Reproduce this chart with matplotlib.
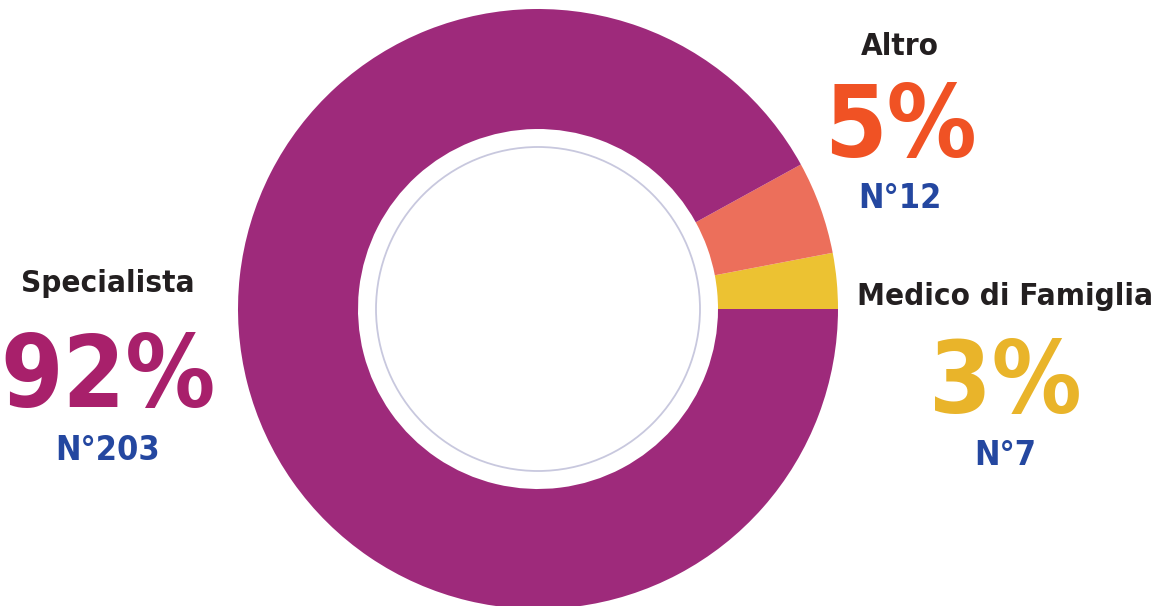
import matplotlib
matplotlib.use("Agg")
import matplotlib.pyplot as plt
from matplotlib.patches import Circle
from matplotlib import font_manager as fm

categories = ["Medico di Famiglia", "Altro", "Specialista"]
percents = [3, 5, 92]
counts = [7, 12, 203]
slice_colors = ["#ECC232", "#EC6F5B", "#9E2A7B"]
pct_colors = ["#E9B42A", "#F05224", "#A8206B"]
label_color = "#231F20"
count_color = "#2447A0"

# pick a condensed bold face if one is installed
chosen = None
for fam, stretch in [("Liberation Sans Narrow", "normal"), ("DejaVu Sans", "condensed"),
                     ("Roboto Condensed", "normal"), ("Noto Sans", "condensed"),
                     ("Open Sans", "condensed"), ("Roboto", "condensed")]:
    try:
        fp = fm.FontProperties(family=fam, weight="bold", stretch=stretch)
        path = fm.findfont(fp, fallback_to_default=False)
        if "ondensed" in path or "arrow" in path:
            chosen = (fam, stretch)
            break
    except Exception:
        pass
if chosen is None:
    chosen = ("Liberation Sans", "normal")
    condensed = False
else:
    condensed = True
FAM, STRETCH = chosen
plt.rcParams['font.family'] = [FAM, 'DejaVu Sans']

W, H = 1155, 606
fig = plt.figure(figsize=(W / 100, H / 100), dpi=100)
ax = fig.add_axes([0, 0, 1, 1])

cx, cy = 538, H - 309
R = 300
ax.pie(percents, colors=slice_colors, startangle=0, counterclock=True,
       radius=R, center=(cx, cy), frame=True,
       wedgeprops=dict(width=R - 180, linewidth=0))
ax.set_xlim(0, W)
ax.set_ylim(0, H)
ax.set_aspect('equal')
ax.axis('off')
ax.add_patch(Circle((cx, cy), 162, facecolor='none', edgecolor='#C8C8DE', linewidth=1.3))

if condensed:
    s_lab, s_pct, s_cnt = 22.5, 72, 24.5
else:
    s_lab, s_pct, s_cnt = 21, 66, 23

pos = {
    "Medico di Famiglia": (1005, 305, 413, 465),
    "Altro": (900, 55, 157, 208),
    "Specialista": (108, 292, 407, 460),
}
for cat, p, n, pc in zip(categories, percents, counts, pct_colors):
    x, b1, b2, b3 = pos[cat]
    ax.text(x, H - b1, cat, ha='center', va='baseline', fontsize=s_lab,
            fontweight='bold', fontstretch=STRETCH, color=label_color)
    ax.text(x, H - b2, f"{p}%", ha='center', va='baseline', fontsize=s_pct,
            fontweight='bold', fontstretch=STRETCH, color=pc)
    ax.text(x, H - b3, f"N°{n}", ha='center', va='baseline', fontsize=s_cnt,
            fontweight='bold', fontstretch=STRETCH, color=count_color)

fig.savefig("out.png", dpi=100, facecolor='white')
